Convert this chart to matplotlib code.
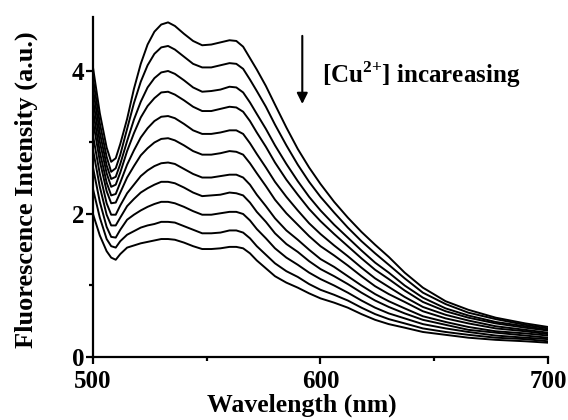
import matplotlib
matplotlib.use('Agg')
import numpy as np
import matplotlib.pyplot as plt

plt.rcParams['font.family'] = 'Liberation Serif'
plt.rcParams['font.weight'] = 'bold'
plt.rcParams['mathtext.fontset'] = 'custom'
plt.rcParams['mathtext.rm'] = 'Liberation Serif:bold'
plt.rcParams['mathtext.bf'] = 'Liberation Serif:bold'

# wavelength grid (nm)
wl = [500, 503, 506, 508, 510, 512, 515, 518, 521, 524, 527, 530, 533, 536,
      540, 544, 548, 552, 556, 560, 563, 566, 569, 572, 576, 580, 585, 590, 595, 600,
      606, 612, 618, 624, 630, 637, 645, 655, 665, 677, 690, 700]

# spectra, highest (no Cu2+) to lowest
c0 = [4.05, 3.41, 2.93, 2.73, 2.78, 2.98, 3.33, 3.75, 4.10, 4.37, 4.55, 4.65, 4.68, 4.63,
      4.52, 4.42, 4.36, 4.37, 4.40, 4.43, 4.42, 4.34, 4.18, 4.02, 3.79, 3.53, 3.21, 2.91, 2.65, 2.42,
      2.17, 1.95, 1.75, 1.57, 1.40, 1.18, 0.97, 0.78, 0.66, 0.55, 0.47, 0.42]
c1 = [3.90, 3.27, 2.80, 2.59, 2.64, 2.83, 3.19, 3.55, 3.85, 4.08, 4.24, 4.33, 4.35, 4.30,
      4.20, 4.10, 4.05, 4.05, 4.08, 4.11, 4.10, 4.03, 3.88, 3.72, 3.50, 3.25, 2.96, 2.69, 2.45, 2.24,
      2.02, 1.81, 1.62, 1.45, 1.29, 1.10, 0.90, 0.74, 0.62, 0.53, 0.45, 0.40]
c2 = [3.75, 3.14, 2.68, 2.49, 2.52, 2.70, 3.02, 3.32, 3.57, 3.77, 3.90, 3.98, 4.00, 3.96,
      3.87, 3.77, 3.71, 3.72, 3.74, 3.78, 3.77, 3.70, 3.56, 3.40, 3.19, 2.96, 2.70, 2.46, 2.24, 2.05,
      1.85, 1.67, 1.49, 1.32, 1.18, 1.00, 0.83, 0.68, 0.58, 0.49, 0.43, 0.38]
c3 = [3.60, 3.01, 2.57, 2.38, 2.41, 2.58, 2.88, 3.13, 3.35, 3.51, 3.62, 3.70, 3.71, 3.67,
      3.59, 3.50, 3.44, 3.44, 3.47, 3.50, 3.49, 3.43, 3.30, 3.14, 2.94, 2.72, 2.48, 2.27, 2.07, 1.90,
      1.72, 1.55, 1.38, 1.22, 1.09, 0.93, 0.77, 0.64, 0.55, 0.47, 0.41, 0.37]
c4 = [3.45, 2.87, 2.44, 2.26, 2.28, 2.44, 2.69, 2.89, 3.07, 3.20, 3.30, 3.36, 3.37, 3.34,
      3.26, 3.17, 3.12, 3.12, 3.14, 3.17, 3.17, 3.12, 2.99, 2.84, 2.65, 2.45, 2.24, 2.05, 1.87, 1.72,
      1.56, 1.41, 1.25, 1.10, 0.98, 0.84, 0.70, 0.59, 0.51, 0.43, 0.38, 0.34]
c5 = [3.30, 2.74, 2.32, 2.15, 2.16, 2.30, 2.51, 2.67, 2.82, 2.92, 3.00, 3.05, 3.06, 3.03,
      2.96, 2.88, 2.83, 2.83, 2.85, 2.88, 2.87, 2.83, 2.71, 2.57, 2.39, 2.20, 2.01, 1.85, 1.69, 1.55,
      1.42, 1.28, 1.13, 0.99, 0.88, 0.77, 0.64, 0.54, 0.47, 0.40, 0.36, 0.32]
c6 = [3.10, 2.56, 2.15, 1.99, 1.99, 2.12, 2.29, 2.41, 2.53, 2.61, 2.67, 2.71, 2.72, 2.70,
      2.63, 2.56, 2.51, 2.51, 2.53, 2.55, 2.55, 2.51, 2.41, 2.27, 2.11, 1.94, 1.77, 1.64, 1.50, 1.37,
      1.26, 1.13, 1.00, 0.88, 0.78, 0.68, 0.57, 0.49, 0.42, 0.36, 0.33, 0.30]
c7 = [2.90, 2.38, 1.99, 1.84, 1.84, 1.95, 2.11, 2.21, 2.30, 2.36, 2.41, 2.45, 2.45, 2.43,
      2.37, 2.30, 2.25, 2.26, 2.27, 2.30, 2.29, 2.26, 2.16, 2.03, 1.89, 1.73, 1.58, 1.47, 1.34, 1.23,
      1.13, 1.02, 0.90, 0.79, 0.70, 0.61, 0.52, 0.45, 0.38, 0.34, 0.30, 0.27]
c8 = [2.65, 2.17, 1.82, 1.68, 1.67, 1.78, 1.92, 1.99, 2.05, 2.10, 2.14, 2.17, 2.17, 2.15,
      2.10, 2.04, 1.99, 1.99, 2.01, 2.03, 2.03, 2.00, 1.91, 1.79, 1.66, 1.52, 1.39, 1.29, 1.18, 1.09,
      1.00, 0.90, 0.79, 0.69, 0.61, 0.54, 0.46, 0.40, 0.35, 0.30, 0.27, 0.25]
c9 = [2.35, 1.95, 1.65, 1.55, 1.53, 1.62, 1.71, 1.76, 1.81, 1.84, 1.86, 1.89, 1.89, 1.88,
      1.83, 1.78, 1.73, 1.73, 1.74, 1.77, 1.77, 1.74, 1.66, 1.55, 1.43, 1.31, 1.20, 1.12, 1.02, 0.94,
      0.87, 0.79, 0.69, 0.60, 0.53, 0.47, 0.40, 0.35, 0.31, 0.27, 0.25, 0.22]
c10 = [2.00, 1.70, 1.48, 1.39, 1.36, 1.44, 1.53, 1.56, 1.59, 1.61, 1.63, 1.65, 1.65, 1.64,
       1.60, 1.55, 1.51, 1.51, 1.52, 1.54, 1.54, 1.52, 1.45, 1.35, 1.24, 1.13, 1.04, 0.97, 0.89, 0.82,
       0.76, 0.69, 0.60, 0.52, 0.46, 0.41, 0.35, 0.31, 0.27, 0.24, 0.22, 0.20]
spectra = [c0, c1, c2, c3, c4, c5, c6, c7, c8, c9, c10]

fig = plt.figure(figsize=(5.68, 4.2), dpi=100)
ax = fig.add_axes([0.1637, 0.15, 0.8011, 0.8095])

for s in spectra:
    ax.plot(wl, s, color='black', lw=1.4, solid_joinstyle='round')

ax.set_xlim(500, 700)
ax.set_ylim(0, 4.755)
ax.set_xticks([500, 600, 700])
ax.set_xticks([550, 650], minor=True)
ax.set_yticks([0, 2, 4])
ax.set_yticks([1, 3], minor=True)

ax.spines['top'].set_visible(False)
ax.spines['right'].set_visible(False)
ax.spines['left'].set_linewidth(1.6)
ax.spines['bottom'].set_linewidth(1.6)
ax.tick_params(which='major', direction='out', length=5, width=1.6, labelsize=18)
ax.tick_params(axis='y', which='major', pad=1)
ax.tick_params(axis='x', which='major', pad=4)
ax.tick_params(which='minor', direction='out', length=3, width=1.6)

ax.set_xlabel('Wavelength (nm)', fontsize=18.5, fontweight='bold')
ax.set_ylabel('Fluorescence Intensity (a.u.)', fontsize=19, fontweight='bold')
ax.xaxis.set_label_coords(0.46, -0.107)
ax.yaxis.set_label_coords(-0.121, 0.491)

ax.annotate('', xy=(592, 3.50), xytext=(592, 4.53),
            arrowprops=dict(arrowstyle='-|>', color='black', lw=1.5, mutation_scale=16))
ax.text(600.5, 3.83, r'[Cu$^{2\!+}\!$] incareasing', fontsize=18, fontweight='bold',
        ha='left', va='baseline')

plt.savefig('out.png', dpi=100)
